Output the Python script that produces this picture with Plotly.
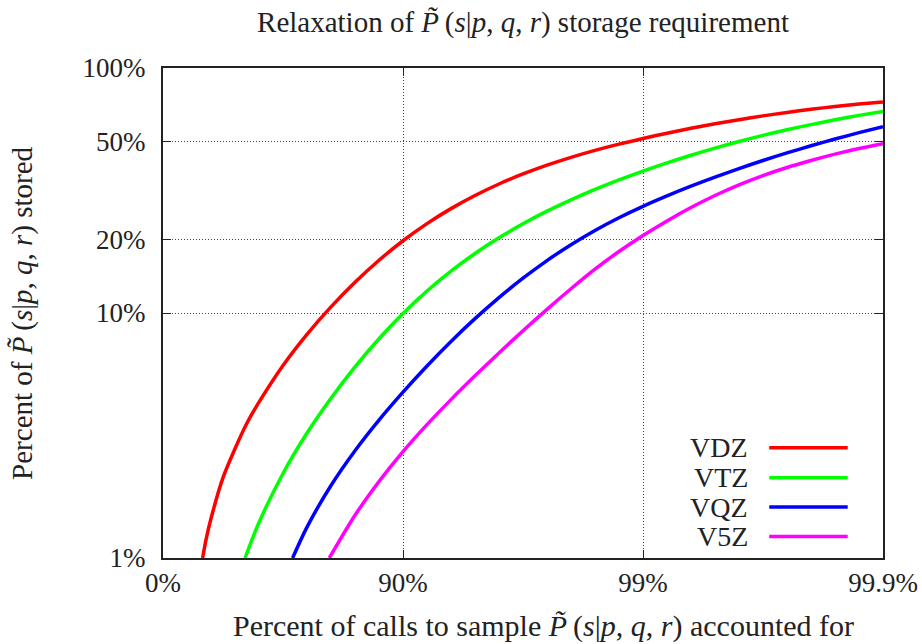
import plotly.graph_objects as go

# x values: "nines" of calls accounted for, i.e. -log10(1 - fraction)
#   (0 -> 0%, 1 -> 90%, 2 -> 99%, 3 -> 99.9%)
# y values: percent of P~(s|p,q,r) stored
series_names = ["VDZ", "VTZ", "VQZ", "V5Z"]
series_colors = ["#ff0000", "#00ff00", "#0000ff", "#ff00ff"]

vdz_x = [0.165, 0.18, 0.2, 0.25, 0.3, 0.35, 0.4, 0.5, 0.6, 0.7, 0.8, 0.9, 1.0, 1.1, 1.2,
         1.3, 1.4, 1.5, 1.6, 1.7, 1.8, 1.9, 2.0, 2.1, 2.2, 2.3, 2.4, 2.5, 2.6, 2.7, 2.8,
         2.9, 3.0]
vdz_y = [1.0, 1.197, 1.449, 2.128, 2.793, 3.556, 4.325, 6.109, 8.185, 10.59, 13.34,
         16.41, 19.72, 23.17, 26.67, 30.17, 33.62, 36.94, 40.13, 43.20, 46.13, 48.92,
         51.58, 54.20, 56.73, 59.17, 61.52, 63.76, 65.87, 67.83, 69.62, 71.22, 72.61]

vtz_x = [0.342, 0.4, 0.5, 0.6, 0.7, 0.8, 0.9, 1.0, 1.1, 1.2, 1.3, 1.4, 1.5, 1.6, 1.7,
         1.8, 1.9, 2.0, 2.1, 2.2, 2.3, 2.4, 2.5, 2.6, 2.7, 2.8, 2.9, 3.0]
vtz_y = [1.0, 1.396, 2.213, 3.236, 4.487, 6.026, 7.852, 9.954, 12.30, 14.83, 17.50,
         20.28, 23.12, 26.04, 28.97, 31.96, 34.95, 37.97, 41.02, 44.06, 47.10, 50.12,
         53.09, 55.98, 58.75, 61.45, 64.05, 66.53]

vqz_x = [0.54, 0.6, 0.7, 0.8, 0.9, 1.0, 1.1, 1.2, 1.3, 1.4, 1.5, 1.6, 1.7, 1.8, 1.9,
         2.0, 2.1, 2.2, 2.3, 2.4, 2.5, 2.6, 2.7, 2.8, 2.9, 3.0]
vqz_y = [1.0, 1.337, 1.977, 2.742, 3.656, 4.753, 6.081, 7.656, 9.484, 11.56, 13.87,
         16.37, 19.01, 21.73, 24.49, 27.26, 30.06, 32.93, 35.85, 38.86, 41.93, 45.03,
         48.14, 51.29, 54.45, 57.61]

v5z_x = [0.693, 0.8, 0.9, 1.0, 1.1, 1.2, 1.3, 1.4, 1.5, 1.6, 1.7, 1.8, 1.9, 2.0, 2.1,
         2.2, 2.3, 2.4, 2.5, 2.6, 2.7, 2.8, 2.9, 3.0]
v5z_y = [1.0, 1.494, 2.053, 2.719, 3.503, 4.431, 5.540, 6.871, 8.462, 10.35, 12.56,
         15.10, 17.82, 20.70, 23.76, 26.94, 30.16, 33.34, 36.39, 39.26, 41.92, 44.50,
         46.94, 49.14]

x_tick_vals = [0, 1, 2, 3]
x_tick_text = ["0%", "90%", "99%", "99.9%"]
y_tick_vals = [1, 10, 20, 50, 100]
y_tick_text = ["1%", "10%", "20%", "50%", "100%"]

series_x = [vdz_x, vtz_x, vqz_x, v5z_x]
series_y = [vdz_y, vtz_y, vqz_y, v5z_y]

FONT = "Liberation Serif"
INK = "#222222"
PT = "<i>P\u0303</i>\u2009(<i>s</i>|<i>p</i>, <i>q</i>, <i>r</i>)"

fig = go.Figure()
for name, color, xs, ys in zip(series_names, series_colors, series_x, series_y):
    fig.add_trace(go.Scatter(
        x=xs, y=ys, mode="lines", name=name,
        line=dict(color=color, width=3.5, shape="spline", smoothing=0.8),
        showlegend=False, hoverinfo="skip",
    ))

# manual legend: label to the left of the line sample, bottom-right inside plot
legend_rows = [0.225, 0.164, 0.104, 0.044]
for name, color, yy in zip(series_names, series_colors, legend_rows):
    fig.add_annotation(x=0.815, y=yy, xref="paper", yref="paper", text=name,
                       showarrow=False, xanchor="right", yanchor="middle",
                       font=dict(family=FONT, size=28, color=INK))
    fig.add_shape(type="line", xref="paper", yref="paper",
                  x0=0.842, x1=0.951, y0=yy, y1=yy,
                  line=dict(color=color, width=3.5))

# axis titles as annotations for exact placement
fig.add_annotation(x=0.528, y=-0.139, xref="paper", yref="paper",
                   text="Percent of calls to sample " + PT + " accounted for",
                   showarrow=False, xanchor="center", yanchor="middle",
                   font=dict(family=FONT, size=30, color=INK))
fig.add_annotation(x=-0.196, y=0.5, xref="paper", yref="paper",
                   text="Percent of " + PT + " stored", textangle=-90,
                   showarrow=False, xanchor="center", yanchor="middle",
                   font=dict(family=FONT, size=29, color=INK))

fig.update_layout(
    width=922, height=644,
    margin=dict(l=163, r=39, t=68, b=86),
    paper_bgcolor="white", plot_bgcolor="white",
    font=dict(family=FONT, size=27, color=INK),
    hovermode=False,
    title=dict(text="Relaxation of " + PT + " storage requirement",
               x=0.5, xref="paper", xanchor="center",
               y=0.9658, yref="container", yanchor="middle",
               font=dict(family=FONT, size=29, color=INK)),
)

fig.update_xaxes(
    range=[0, 3], tickvals=x_tick_vals, ticktext=x_tick_text,
    showline=True, linecolor=INK, linewidth=2, mirror="ticks",
    ticks="inside", ticklen=8, tickwidth=1, tickcolor=INK,
    showgrid=True, gridcolor="#444444", gridwidth=1, griddash="1px,2px",
    zeroline=False, automargin=False,
    tickfont=dict(family=FONT, size=27, color=INK),
)
fig.update_yaxes(
    type="log", range=[0, 2], tickvals=y_tick_vals, ticktext=y_tick_text,
    showline=True, linecolor=INK, linewidth=2, mirror="ticks",
    ticks="inside", ticklen=8, tickwidth=1, tickcolor=INK,
    showgrid=True, gridcolor="#444444", gridwidth=1, griddash="1px,2px",
    zeroline=False, automargin=False, ticklabelstandoff=10,
    tickfont=dict(family=FONT, size=27, color=INK),
)

fig.write_html("out.html",
               config={"displayModeBar": False, "staticPlot": True},
               post_script="document.body.style.margin='0';"
                           "document.body.style.overflow='hidden';")
